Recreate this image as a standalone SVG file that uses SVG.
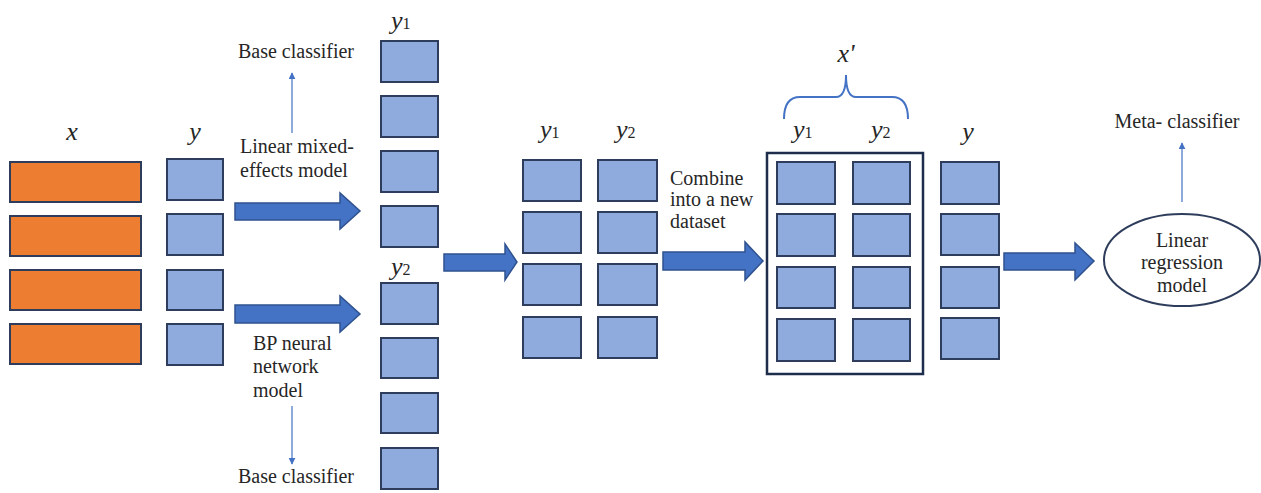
<svg xmlns="http://www.w3.org/2000/svg" width="1261" height="493" viewBox="0 0 1261 493" font-family="'Liberation Serif', serif">
<style>
.t{font-size:20px;fill:#262626}
.v{font-size:26px;font-style:italic;fill:#262626}
.s{font-size:16px;font-style:normal}
.o{fill:#ED7D31;stroke:#2F3D5C;stroke-width:2}
.b{fill:#8FAADC;stroke:#2F3D5C;stroke-width:2}
.ba{fill:#4472C4;stroke:#2F528F;stroke-width:1.5}
.thin{stroke:#4472C4;stroke-width:1.2;fill:none}
</style>
<defs>
<marker id="ah" viewBox="0 0 10 10" refX="9" refY="5" markerWidth="7" markerHeight="7" markerUnits="userSpaceOnUse" orient="auto">
<path d="M0,0 L10,5 L0,10 z" fill="#4472C4"/>
</marker>
</defs>
<rect width="1261" height="493" fill="#fff"/>

<g id="x-data">
<text class="v" x="72" y="140" text-anchor="middle">x</text>
<rect class="o" x="10" y="162" width="131" height="40"/>
<rect class="o" x="10" y="216" width="131" height="40"/>
<rect class="o" x="10" y="270" width="131" height="40"/>
<rect class="o" x="10" y="324" width="131" height="40"/>
</g>

<g id="y-data">
<text class="v" x="195" y="140" text-anchor="middle">y</text>
<rect class="b" x="167" y="159" width="56" height="41"/>
<rect class="b" x="167" y="214" width="56" height="41"/>
<rect class="b" x="167" y="270" width="56" height="40"/>
<rect class="b" x="167" y="324" width="56" height="41"/>
</g>

<g id="lmm-label">
<text class="t" x="296" y="58" text-anchor="middle">Base classifier</text>
<text class="t" x="240" y="153">Linear mixed-</text>
<text class="t" x="240" y="177">effects model</text>
</g>

<g id="bp-label">
<text class="t" x="253" y="350">BP neural</text>
<text class="t" x="253" y="373">network</text>
<text class="t" x="253" y="397">model</text>
<text class="t" x="296" y="483" text-anchor="middle">Base classifier</text>
</g>

<g id="y1-column">
<text class="v" x="391" y="29">y<tspan class="s">1</tspan></text>
<rect class="b" x="381" y="41" width="57" height="41"/>
<rect class="b" x="381" y="96" width="57" height="41"/>
<rect class="b" x="381" y="151" width="57" height="41"/>
<rect class="b" x="381" y="206" width="57" height="41"/>
</g>

<g id="y2-column">
<text class="v" x="391" y="275">y<tspan class="s">2</tspan></text>
<rect class="b" x="381" y="283" width="57" height="41"/>
<rect class="b" x="381" y="338" width="57" height="40"/>
<rect class="b" x="381" y="393" width="57" height="40"/>
<rect class="b" x="381" y="448" width="57" height="41"/>
</g>

<g id="combined-predictions">
<text class="v" x="540" y="138">y<tspan class="s">1</tspan></text>
<text class="v" x="616" y="138">y<tspan class="s">2</tspan></text>
<rect class="b" x="523" y="160" width="58" height="41"/>
<rect class="b" x="523" y="212" width="58" height="41"/>
<rect class="b" x="523" y="264" width="58" height="41"/>
<rect class="b" x="523" y="317" width="58" height="41"/>
<rect class="b" x="598" y="160" width="59" height="41"/>
<rect class="b" x="598" y="212" width="59" height="41"/>
<rect class="b" x="598" y="264" width="59" height="41"/>
<rect class="b" x="598" y="317" width="59" height="41"/>
</g>

<g id="combine-label">
<text class="t" x="670" y="185">Combine</text>
<text class="t" x="670" y="206">into a new</text>
<text class="t" x="670" y="228">dataset</text>
</g>

<g id="new-dataset">
<text class="v" x="846" y="62" text-anchor="middle">x'</text>
<path d="M784,119 Q784,97 800,97 L836,97 Q846,97 846,75 Q846,97 856,97 L892,97 Q908,97 908,119" fill="none" stroke="#4472C4" stroke-width="2"/>
<text class="v" x="793" y="138">y<tspan class="s">1</tspan></text>
<text class="v" x="871" y="138">y<tspan class="s">2</tspan></text>
<rect x="767" y="153" width="156" height="221" fill="none" stroke="#1F2D4D" stroke-width="2.5"/>
<rect class="b" x="777" y="162" width="58" height="42"/>
<rect class="b" x="777" y="214" width="58" height="42"/>
<rect class="b" x="777" y="267" width="58" height="41"/>
<rect class="b" x="777" y="319" width="58" height="42"/>
<rect class="b" x="853" y="162" width="57" height="42"/>
<rect class="b" x="853" y="214" width="57" height="42"/>
<rect class="b" x="853" y="267" width="57" height="41"/>
<rect class="b" x="853" y="319" width="57" height="42"/>
</g>

<g id="y-target">
<text class="v" x="968" y="140" text-anchor="middle">y</text>
<rect class="b" x="941" y="162" width="58" height="42"/>
<rect class="b" x="941" y="214" width="58" height="41"/>
<rect class="b" x="941" y="267" width="58" height="41"/>
<rect class="b" x="941" y="318" width="58" height="41"/>
</g>

<g id="meta-model">
<ellipse cx="1182" cy="260" rx="78" ry="46" fill="#fff" stroke="#2F3D5C" stroke-width="2"/>
<text class="t" x="1182" y="247" text-anchor="middle">Linear</text>
<text class="t" x="1182" y="269" text-anchor="middle">regression</text>
<text class="t" x="1182" y="292" text-anchor="middle">model</text>
<text class="t" x="1177" y="128" text-anchor="middle">Meta- classifier</text>
</g>

<g id="connectors">
<path class="ba" d="M235,203 L340,203 L340,193 L360,211 L340,229 L340,220 L235,220 Z"/>
<path class="ba" d="M235,305 L340,305 L340,296 L360,314 L340,332 L340,323 L235,323 Z"/>
<path class="ba" d="M444,254 L505,254 L505,244 L517,262 L505,280 L505,271 L444,271 Z"/>
<path class="ba" d="M663,252 L745,252 L745,242 L763,261 L745,280 L745,270 L663,270 Z"/>
<path class="ba" d="M1004,253 L1075,253 L1075,243 L1094,261 L1075,280 L1075,270 L1004,270 Z"/>
<line class="thin" x1="292" y1="133" x2="292" y2="73" marker-end="url(#ah)"/>
<line class="thin" x1="292" y1="406" x2="292" y2="464" marker-end="url(#ah)"/>
<line class="thin" x1="1182" y1="202" x2="1182" y2="143" marker-end="url(#ah)"/>
</g>
</svg>
